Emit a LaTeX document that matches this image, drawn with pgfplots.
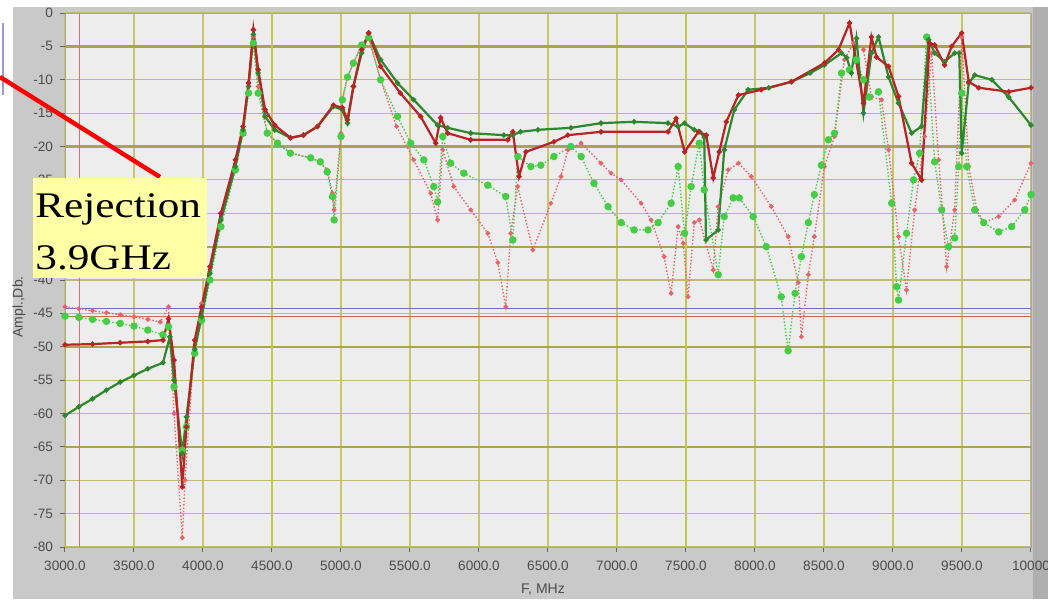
\documentclass[border=0pt]{standalone}
\usepackage{pgfplots}
\pgfplotsset{compat=1.18}
\usepackage{fontspec}
\setmainfont{Liberation Serif}
\newfontfamily\lab{Liberation Sans}
\definecolor{panel}{RGB}{201,201,201}
\definecolor{panelr}{RGB}{175,175,175}
\definecolor{plotbg}{RGB}{237,237,237}
\definecolor{gridh}{RGB}{192,186,120}
\definecolor{gridv}{RGB}{200,198,105}
\definecolor{gridthick}{RGB}{170,163,85}
\definecolor{gridvthick}{RGB}{195,200,70}
\definecolor{dgreen}{RGB}{45,135,45}
\definecolor{dred}{RGB}{185,35,35}
\definecolor{lgreen}{RGB}{70,205,70}
\definecolor{lred}{RGB}{232,100,100}
\definecolor{annot}{RGB}{255,255,165}
\definecolor{hblue}{RGB}{110,110,200}
\definecolor{hbrown}{RGB}{200,110,80}
\definecolor{vred}{RGB}{215,115,115}
\begin{document}
\begin{tikzpicture}
\useasboundingbox (0,0) rectangle (524pt,299.5pt);
\fill[white] (0,0) rectangle (524pt,299.5pt);
\fill[panel] (6.5pt,0) rectangle (524pt,296pt);
\fill[panelr] (516.5pt,0) rectangle (524pt,296pt);
\begin{axis}[
  at={(32.5pt,26pt)}, anchor=south west,
  scale only axis, width=483pt, height=267pt,
  xmin=3000, xmax=10000, ymin=-80, ymax=0,
  scaled x ticks=false, scaled y ticks=false,
  xtick={3000,3500,4000,4500,5000,5500,6000,6500,7000,7500,8000,8500,9000,9500,10000},
  xticklabels={3000.0,3500.0,4000.0,4500.0,5000.0,5500.0,6000.0,6500.0,7000.0,7500.0,8000.0,8500.0,9000.0,9500.0,10000},
  ytick={-80,-75,-70,-65,-60,-55,-50,-45,-40,-35,-30,-25,-20,-15,-10,-5,0},
  yticklabels={-80,-75,-70,-65,-60,-55,-50,-45,-40,-35,-30,-25,-20,-15,-10,-5,0},
  grid=major,
  x grid style={gridv, line width=0.6pt},
  y grid style={gridh, line width=0.6pt},
  axis background/.style={fill=plotbg},
  axis line style={draw=black!35, line width=0.4pt},
  tick align=outside, major tick length=2.5pt,
  tick style={black!60, line width=0.5pt},
  xtick pos=left, ytick pos=left,
  ticklabel style={font=\lab\fontsize{6.8}{8}\selectfont, text=black!70},
  xticklabel style={yshift=-1pt},
  clip=true,
]
% thicker grid lines
\addplot[gridthick, line width=1.4pt] coordinates {(3000,-5) (10000,-5)};
\addplot[gridthick, line width=1.1pt] coordinates {(3000,-20) (10000,-20)};
\addplot[gridthick, line width=1.1pt] coordinates {(3000,-35) (10000,-35)};
\addplot[gridthick, line width=1.1pt] coordinates {(3000,-50) (10000,-50)};
\addplot[gridthick, line width=1.1pt] coordinates {(3000,-65) (10000,-65)};
\addplot[gridvthick, line width=1.2pt] coordinates {(4500,-80) (4500,0)};
\addplot[gridvthick, line width=1.2pt] coordinates {(7500,-80) (7500,0)};
% marker lines
\addplot[vred, line width=0.7pt] coordinates {(3105,-80) (3105,0)};
\addplot[hblue, line width=0.7pt] coordinates {(3000,-44.3) (10000,-44.3)};
\addplot[hbrown, line width=0.7pt] coordinates {(3000,-45.5) (10000,-45.5)};
% D: light red dotted
\addplot[lred, densely dotted, line width=0.7pt, mark=*, mark size=0.8pt, mark options={solid}] coordinates {
(3000,-44) (3100,-44.3) (3200,-44.6) (3300,-44.9) (3400,-45.2) (3500,-45.5) (3600,-45.9) (3690,-46.3)
(3750,-44) (3790,-60) (3850,-78.6) (3870,-70) (3940,-49) (3990,-43.5) (4050,-38) (4130,-30) (4235,-22)
(4290,-17) (4330,-10.5) (4365,-3.5) (4400,-11) (4466,-18) (4540,-19.5) (4633,-21) (4780,-21.7)
(4850,-22.3) (4900,-23.5) (4938,-27) (4950,-29.5) (5000,-18) (5010,-13) (5047,-9.6) (5090,-7.5)
(5150,-4.8) (5200,-3.7) (5287,-10) (5403,-17) (5527,-22) (5650,-27) (5700,-31) (5737,-20.5)
(5817,-26) (5940,-29.5) (6064,-33) (6136,-37.4) (6194,-44) (6230,-33) (6281,-26) (6390,-35.5)
(6521,-28.5) (6594,-24.5) (6644,-20.5) (6740,-19.5) (6884,-22.5) (6957,-24) (7030,-25) (7175,-28.5)
(7247,-31) (7341,-36.5) (7392,-42) (7443,-32) (7480,-34.5) (7515,-42.5) (7560,-31.4) (7597,-31)
(7697,-38.5) (7733,-29) (7806,-23.5) (7880,-22.5) (7973,-24.5) (8118,-29) (8240,-33.5) (8314,-40.4)
(8336,-48.5) (8387,-39.2) (8430,-33.5) (8503,-23) (8576,-18.5) (8648,-7) (8714,-4.5) (8786,-5.5)
(8844,-12.6) (8917,-13) (8968,-20.5) (9040,-33.5) (9098,-41.5) (9157,-29.5) (9229,-18.5) (9280,-6)
(9331,-22) (9389,-38) (9447,-29.5) (9498,-3.6) (9549,-23) (9607,-29.5) (9657,-31.4) (9766,-30.5)
(9882,-28) (10000,-22.5)};
% C: light green dotted with circles
\addplot[lgreen, densely dotted, line width=0.7pt, mark=*, mark size=1.5pt, mark options={solid}] coordinates {
(3000,-45.4) (3100,-45.6) (3200,-45.9) (3300,-46.2) (3400,-46.5) (3500,-46.9) (3600,-47.5) (3710,-48.2)
(3750,-47) (3790,-56) (3850,-65.5) (3880,-62) (3940,-51) (3990,-46) (4050,-40) (4130,-32) (4235,-23.5)
(4290,-18) (4330,-12) (4365,-4.5) (4400,-12) (4466,-18) (4540,-19.5) (4633,-21) (4780,-21.7)
(4850,-22.3) (4900,-23.8) (4938,-27.5) (4950,-31) (5000,-18.5) (5010,-13) (5047,-9.6) (5090,-7.5)
(5150,-4.8) (5200,-3.7) (5287,-10) (5410,-15.5) (5505,-19.5) (5600,-22) (5672,-26) (5700,-28.3)
(5737,-18.5) (5795,-22.5) (5890,-24) (6064,-25.8) (6194,-27.5) (6245,-34) (6281,-21.5) (6376,-23)
(6448,-22.8) (6543,-21.5) (6666,-20) (6740,-21.5) (6833,-25.5) (6935,-29) (7030,-31.4) (7124,-32.5)
(7225,-32.5) (7298,-31.4) (7392,-28.5) (7443,-23) (7490,-33) (7537,-26) (7596,-19.5) (7632,-26.5)
(7733,-39.2) (7777,-30.5) (7842,-27.7) (7886,-27.7) (7987,-30.5) (8082,-35) (8190,-42.5) (8240,-50.6)
(8290,-42) (8336,-36.5) (8387,-31.4) (8430,-27.2) (8481,-22.8) (8532,-19) (8576,-18) (8627,-9)
(8685,-8.5) (8735,-7) (8786,-10) (8830,-12.6) (8895,-11.8) (8990,-28.5) (9026,-41) (9040,-43)
(9098,-33) (9149,-25) (9193,-21) (9244,-3.6) (9302,-22.3) (9353,-29.5) (9403,-35) (9447,-33.7)
(9476,-23) (9498,-12) (9534,-23) (9592,-29.5) (9657,-31.4) (9766,-32.8) (9860,-32) (9955,-29.5)
(10000,-27.2)};
% A: dark green solid
\addplot[dgreen, line width=1.1pt, mark=*, mark size=0.7pt] coordinates {
(3000,-60.3) (3100,-59) (3200,-57.8) (3300,-56.5) (3400,-55.3) (3500,-54.3) (3600,-53.3) (3710,-52.4)
(3760,-48.5) (3790,-55) (3850,-66) (3880,-60.5) (3940,-50.4) (3990,-45.5) (4050,-39) (4130,-31)
(4235,-23) (4290,-17.5) (4330,-11) (4365,-3.2) (4400,-9) (4450,-15.5) (4520,-17.5) (4634,-18.7)
(4728,-18.3) (4830,-17) (4945,-14) (5010,-14.5) (5047,-16.5) (5090,-11) (5150,-6) (5200,-3)
(5287,-7) (5410,-10.5) (5527,-13) (5700,-16.8) (5773,-17.2) (5940,-18) (6180,-18.3) (6245,-18.3)
(6300,-17.8) (6427,-17.5) (6666,-17.2) (6884,-16.5) (7124,-16.3) (7370,-16.5) (7443,-17) (7490,-16.5)
(7560,-17.5) (7600,-17.8) (7632,-18.6) (7645,-34) (7733,-32.5) (7777,-20.5) (7850,-14.5) (7950,-11.5)
(8100,-11.2) (8264,-10.3) (8400,-9) (8503,-7.8) (8627,-6) (8665,-6.7) (8699,-9) (8735,-3.8)
(8786,-15) (8844,-6) (8895,-3.6) (8968,-9.6) (9040,-13.5) (9135,-18) (9207,-17) (9258,-4) (9302,-6)
(9374,-7.3) (9447,-6) (9480,-6) (9498,-21) (9549,-10.5) (9592,-9.3) (9716,-10) (9839,-12.6)
(10000,-16.8)};
% B: dark red solid
\addplot[dred, line width=1.1pt, mark=*, mark size=0.7pt] coordinates {
(3000,-49.7) (3200,-49.6) (3400,-49.4) (3600,-49.2) (3710,-49) (3750,-45.8) (3790,-52) (3850,-71)
(3880,-62) (3940,-49) (3990,-44) (4050,-38) (4130,-30) (4235,-22) (4290,-17) (4330,-10.5) (4365,-2.5)
(4400,-8.5) (4450,-14.5) (4520,-16.8) (4634,-18.7) (4728,-18.3) (4830,-17) (4945,-13.8) (5010,-14.2)
(5047,-16) (5090,-11) (5150,-5.5) (5200,-3) (5287,-8) (5430,-12) (5577,-15.5) (5686,-19.5)
(5722,-15.7) (5773,-18) (5940,-19) (6209,-19) (6245,-17.8) (6290,-24.5) (6340,-20.8) (6543,-19.3)
(6644,-18.3) (6884,-17.8) (7370,-17.8) (7428,-15.8) (7490,-20.8) (7590,-17.8) (7647,-18.3)
(7697,-24.7) (7741,-20.8) (7792,-16.3) (7880,-12.3) (8045,-11.5) (8264,-10.3) (8503,-7.5)
(8605,-5.5) (8685,-1.5) (8786,-13.5) (8844,-3.6) (8880,-6.6) (8968,-8) (9040,-12.5) (9135,-22.5)
(9207,-25) (9265,-4.5) (9302,-4.8) (9374,-7.8) (9425,-5) (9498,-3) (9549,-10.3) (9621,-11.2)
(9839,-11.8) (10000,-11.2)};
\end{axis}
% axis labels
\node[rotate=90, font=\lab\fontsize{7}{8}\selectfont, text=black!70] at (9.5pt,146pt) {Ampl.,Db.};
\node[font=\lab\fontsize{7}{8}\selectfont, text=black!70] at (271.5pt,4.5pt) {F, MHz};
% left blue fragment
\draw[hblue!70, line width=0.8pt] (1.5pt,288pt) -- (1.5pt,252pt);
% annotation
\draw[red, line width=2.2pt] (0pt,261pt) -- (80pt,211pt);
\fill[annot] (16.5pt,160.5pt) rectangle (103.5pt,210.5pt);
\node[anchor=base west, inner sep=0pt] at (17.5pt,190.5pt) {\scalebox{1.2}[1]{\fontsize{18}{20}\selectfont Rejection}};
\node[anchor=base west, inner sep=0pt] at (17.5pt,164.5pt) {\scalebox{1.2}[1]{\fontsize{18}{20}\selectfont 3.9GHz}};
\end{tikzpicture}
\end{document}
